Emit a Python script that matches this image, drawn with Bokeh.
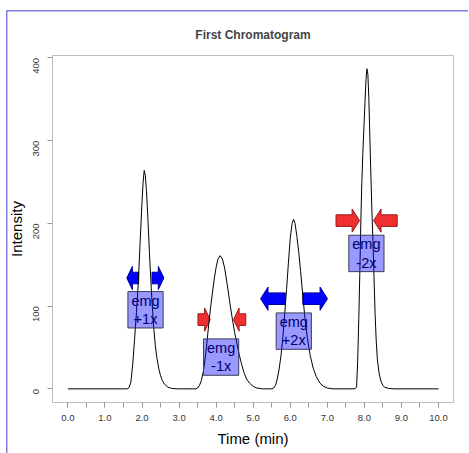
import math
from bokeh.plotting import figure
from bokeh.models import FixedTicker, Range1d, ColumnDataSource
from bokeh.core.properties import value
from bokeh.embed import file_html
from bokeh.resources import INLINE

# ---------------- data ----------------
baseline_time = [0.0, 10.0]
baseline_intensity = [0.0, 0.0]

peak1_time = [1.60, 1.65, 1.70, 1.75, 1.80, 1.85, 1.90, 1.95, 2.00, 2.03, 2.06, 2.09, 2.12,
              2.16, 2.20, 2.24, 2.28, 2.32, 2.36, 2.40, 2.45, 2.50, 2.55, 2.60, 2.70, 2.80, 2.95]
peak1_intensity = [0, 1.5, 8, 30, 60, 92, 128, 178, 226, 250, 264, 258, 240,
                   205, 165, 130, 98, 72, 52, 38, 25, 16, 10, 6, 2, 0.5, 0]

peak2_time = [3.45, 3.50, 3.55, 3.60, 3.65, 3.70, 3.75, 3.80, 3.85, 3.90, 3.95, 4.00, 4.05, 4.11,
              4.17, 4.23, 4.30, 4.37, 4.44, 4.50, 4.56, 4.62, 4.68, 4.75, 4.82, 4.90, 5.00, 5.10, 5.25]
peak2_intensity = [0, 1, 4, 10, 20, 35, 55, 78, 98, 116, 133, 147, 157, 161,
                   157, 146, 126, 104, 84, 68, 55, 42, 31, 20, 12, 7, 3, 1, 0]

peak3_time = [5.50, 5.55, 5.60, 5.65, 5.70, 5.75, 5.80, 5.85, 5.90, 5.95, 6.00, 6.05, 6.09,
              6.13, 6.18, 6.23, 6.28, 6.34, 6.40, 6.46, 6.54, 6.62, 6.70, 6.80, 6.90, 7.00, 7.15]
peak3_intensity = [0, 1, 4, 12, 24, 40, 62, 90, 120, 152, 182, 200, 205,
                   200, 184, 165, 142, 112, 84, 62, 40, 25, 15, 7, 3, 1, 0]

peak4_time = [7.70, 7.75, 7.79, 7.82, 7.85, 7.88, 7.905, 7.93, 7.96, 7.99, 8.02, 8.045, 8.07,
              8.095, 8.12, 8.14, 8.17, 8.20, 8.23, 8.26, 8.29, 8.32, 8.35, 8.40, 8.45, 8.50,
              8.55, 8.65, 8.80]
peak4_intensity = [0, 0.5, 2, 34, 85, 145, 203, 248, 286, 318, 350, 375, 387,
                   380, 352, 318, 268, 220, 180, 135, 90, 58, 36, 18, 9, 4,
                   2, 0.5, 0]

# annotations (data units: minutes / intensity)
ann_labels = ["emg\n+1x", "emg\n-1x", "emg\n+2x", "emg\n-2x"]
ann_time = [2.095, 4.135, 6.095, 8.055]
ann_intensity = [95.6, 38.4, 69.8, 163.7]
arrow_intensity = [134, 83.7, 109, 203.4]
arrow_gap_lo = [1.91, 3.84, 5.865, 7.87]
arrow_gap_hi = [2.27, 4.47, 6.34, 8.25]
arrow_length = [0.32, 0.33, 0.665, 0.635]
arrow_direction = ["out", "in", "out", "in"]

x_ticks = [0, 1, 2, 3, 4, 5, 6, 7, 8, 9, 10]
x_tick_labels = ["0.0", "1.0", "2.0", "3.0", "4.0", "5.0", "6.0", "7.0", "8.0", "9.0", "10.0"]
x_minor_ticks = [0, 0.5, 1, 1.5, 2, 2.5, 3, 3.5, 4, 4.5, 5, 5.5, 6, 6.5, 7, 7.5, 8, 8.5, 9, 9.5, 10]
y_ticks = [0, 100, 200, 300, 400]
y_tick_labels = ["0", "100", "200", "300", "400"]

# ---------------- styles ----------------
FONT = "Liberation Sans"
FRAME_COLOR = "#7f7fe0"
BOX_W = 0.95
BOX_H = 44
BODY_H = 14
HEAD_H = 28
HEAD_L_SMALL = 0.15
HEAD_L_BIG = 0.2

curve_time = []
curve_intensity = []
curve_time += baseline_time[:1]
curve_intensity += baseline_intensity[:1]
for t, i in [(peak1_time, peak1_intensity), (peak2_time, peak2_intensity),
             (peak3_time, peak3_intensity), (peak4_time, peak4_intensity)]:
    curve_time += t
    curve_intensity += i
curve_time += baseline_time[1:]
curve_intensity += baseline_intensity[1:]

p = figure(width=469, height=453,
           x_range=Range1d(-0.415, 10.405), y_range=Range1d(-16.5, 403),
           output_backend="svg", toolbar_location=None,
           min_border_left=52, min_border_right=16, min_border_top=55, min_border_bottom=51,
           title="First Chromatogram")
# thin page frame (left and top) drawn behind a transparent border area
p.styles = {
    "background-color": "white",
    "background-image": f"linear-gradient({FRAME_COLOR}, {FRAME_COLOR}), linear-gradient({FRAME_COLOR}, {FRAME_COLOR})",
    "background-size": "1.5px 443px, 462px 1.5px",
    "background-position": "6px 10px, 6px 10px",
    "background-repeat": "no-repeat",
}
p.border_fill_color = None
p.background_fill_color = "white"

p.title.text_font = FONT
p.title.text_font_size = "12px"
p.title.text_font_style = "bold"
p.title.align = "center"
p.title.standoff = 27

p.xgrid.visible = False
p.ygrid.visible = False
p.outline_line_color = "#bdbdbd"

for ax in (p.xaxis[0], p.yaxis[0]):
    ax.axis_line_color = None
    ax.major_tick_line_color = "#9a9a9a"
    ax.minor_tick_line_color = "#9a9a9a"
    ax.major_tick_in = 0
    ax.major_tick_out = 5
    ax.minor_tick_in = 0
    ax.minor_tick_out = 5
    ax.major_label_text_font = FONT
    ax.major_label_text_font_size = "9.5px"
    ax.major_label_text_color = "#333333"
    ax.axis_label_text_font = FONT
    ax.axis_label_text_font_size = "15px"
    ax.axis_label_text_font_style = "normal"
    ax.axis_label_text_color = "black"

p.xaxis[0].ticker = FixedTicker(ticks=x_ticks, minor_ticks=x_minor_ticks)
p.xaxis[0].major_label_overrides = dict(zip(x_ticks, x_tick_labels))
p.xaxis[0].axis_label = "Time (min)"
p.xaxis[0].major_label_standoff = 7
p.xaxis[0].axis_label_standoff = 6

p.yaxis[0].ticker = FixedTicker(ticks=y_ticks, minor_ticks=[])
p.yaxis[0].major_label_overrides = dict(zip(y_ticks, y_tick_labels))
p.yaxis[0].major_label_orientation = math.pi / 2
p.yaxis[0].axis_label = "Intensity"
p.yaxis[0].major_label_standoff = 11
p.yaxis[0].axis_label_standoff = 3


def arrow_poly(tail, tip, y, head_len):
    s = 1 if tip > tail else -1
    hb = tip - s * head_len
    xs = [tail, hb, hb, tip, hb, hb, tail]
    ys = [y - BODY_H / 2, y - BODY_H / 2, y - HEAD_H / 2, y,
          y + HEAD_H / 2, y + BODY_H / 2, y + BODY_H / 2]
    return xs, ys


blue_xs, blue_ys, red_xs, red_ys = [], [], [], []
for lo, hi, ln, y, d in zip(arrow_gap_lo, arrow_gap_hi, arrow_length, arrow_intensity, arrow_direction):
    hl = HEAD_L_BIG if ln > 0.5 else HEAD_L_SMALL
    if d == "out":
        a = arrow_poly(lo, lo - ln, y, hl)
        b = arrow_poly(hi, hi + ln, y, hl)
        blue_xs += [a[0], b[0]]
        blue_ys += [a[1], b[1]]
    else:
        a = arrow_poly(lo - ln, lo, y, hl)
        b = arrow_poly(hi + ln, hi, y, hl)
        red_xs += [a[0], b[0]]
        red_ys += [a[1], b[1]]

p.patches(blue_xs, blue_ys, fill_color="#0000ff", line_color="#00009a", line_width=1)
p.patches(red_xs, red_ys, fill_color="#f03030", line_color="#9a1a1a", line_width=1)

p.line(curve_time, curve_intensity, line_color="black", line_width=1)

src = ColumnDataSource(dict(x=ann_time, y=ann_intensity, label=ann_labels))
p.text(x="x", y="y", text="label", source=src, text_align="center", text_baseline="middle",
       text_font=value(FONT), text_font_size="14.5px", text_line_height=1.15, text_color="black")
p.rect(x="x", y="y", width=BOX_W, height=BOX_H, source=src,
       fill_color="#0000ff", fill_alpha=0.4, line_color="#3c3c5a", line_width=1)

open("out.html", "w").write(file_html(p, INLINE))
